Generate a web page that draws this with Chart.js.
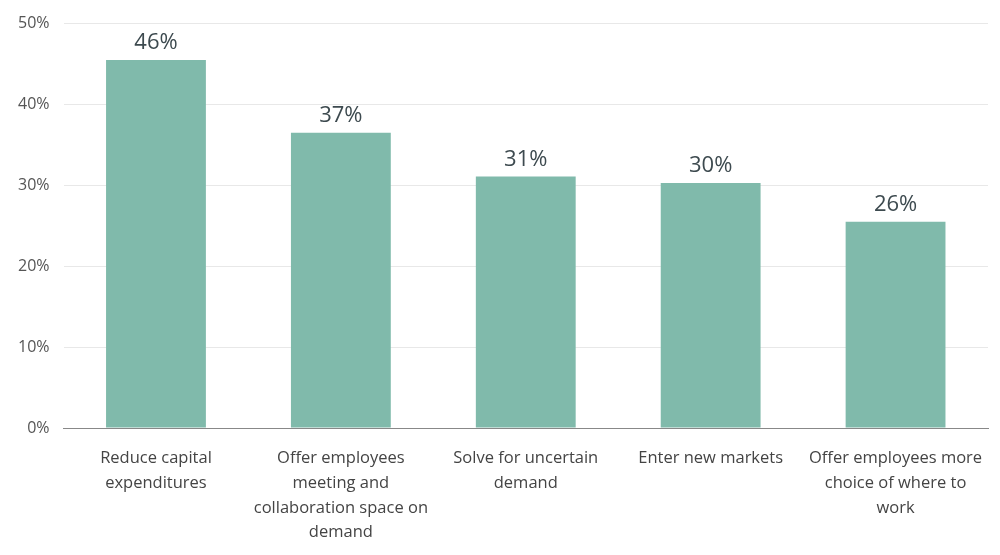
<!DOCTYPE html>
<html><head><meta charset="utf-8">
<script src="https://cdn.jsdelivr.net/npm/chart.js@4/dist/chart.umd.min.js"></script>
<style>html,body{margin:0;padding:0;background:#fff}#w{width:1000px;height:555px}</style>
</head><body><div id="w"><canvas id="c"></canvas></div>
<script>
const categories = [["Reduce capital","expenditures"],["Offer employees","meeting and","collaboration space on","demand"],["Solve for uncertain","demand"],["Enter new markets"],["Offer employees more","choice of where to","work"]];
const values = [45.5, 36.5, 31.1, 30.3, 25.5];
const valueLabels = ["46%","37%","31%","30%","26%"];
const yTicks = [0,10,20,30,40,50];

const labelPlugin = {
  id:'vl',
  afterDatasetsDraw(chart){
    const ctx = chart.ctx, meta = chart.getDatasetMeta(0);
    ctx.save();
    ctx.font = '22px "Open Sans", sans-serif';
    ctx.fillStyle = '#3d4a4f';
    ctx.textAlign = 'center'; ctx.textBaseline = 'bottom';
    meta.data.forEach((b,i)=>ctx.fillText(valueLabels[i], b.x, b.y - 6));
    ctx.restore();
  }
};
new Chart(document.getElementById('c'), {
  type:'bar',
  data:{labels:categories, datasets:[{data:values, backgroundColor:'#80baab', barPercentage:0.54, categoryPercentage:1}]},
  options:{
    responsive:true, maintainAspectRatio:false, animation:false,
    layout:{padding:{top:0,right:12,left:4,bottom:0}},
    plugins:{legend:{display:false}, tooltip:{enabled:false}},
    scales:{
      y:{min:0,max:50,
        afterBuildTicks(s){s.ticks = yTicks.map(v=>({value:v}));},
        ticks:{callback:v=>v+'%', color:'#555', font:{size:16,family:'"Open Sans", sans-serif'}, padding:14},
        grid:{color:'#e8e8e8', drawTicks:false}, border:{display:false}},
      x:{ticks:{color:'#444', font:{size:16.5,family:'"Open Sans", sans-serif', lineHeight:1.5}, maxRotation:0, autoSkip:false, padding:10},
        grid:{display:false}, border:{color:'#888', width:1}}
    }
  },
  plugins:[labelPlugin]
});
</script></body></html>
